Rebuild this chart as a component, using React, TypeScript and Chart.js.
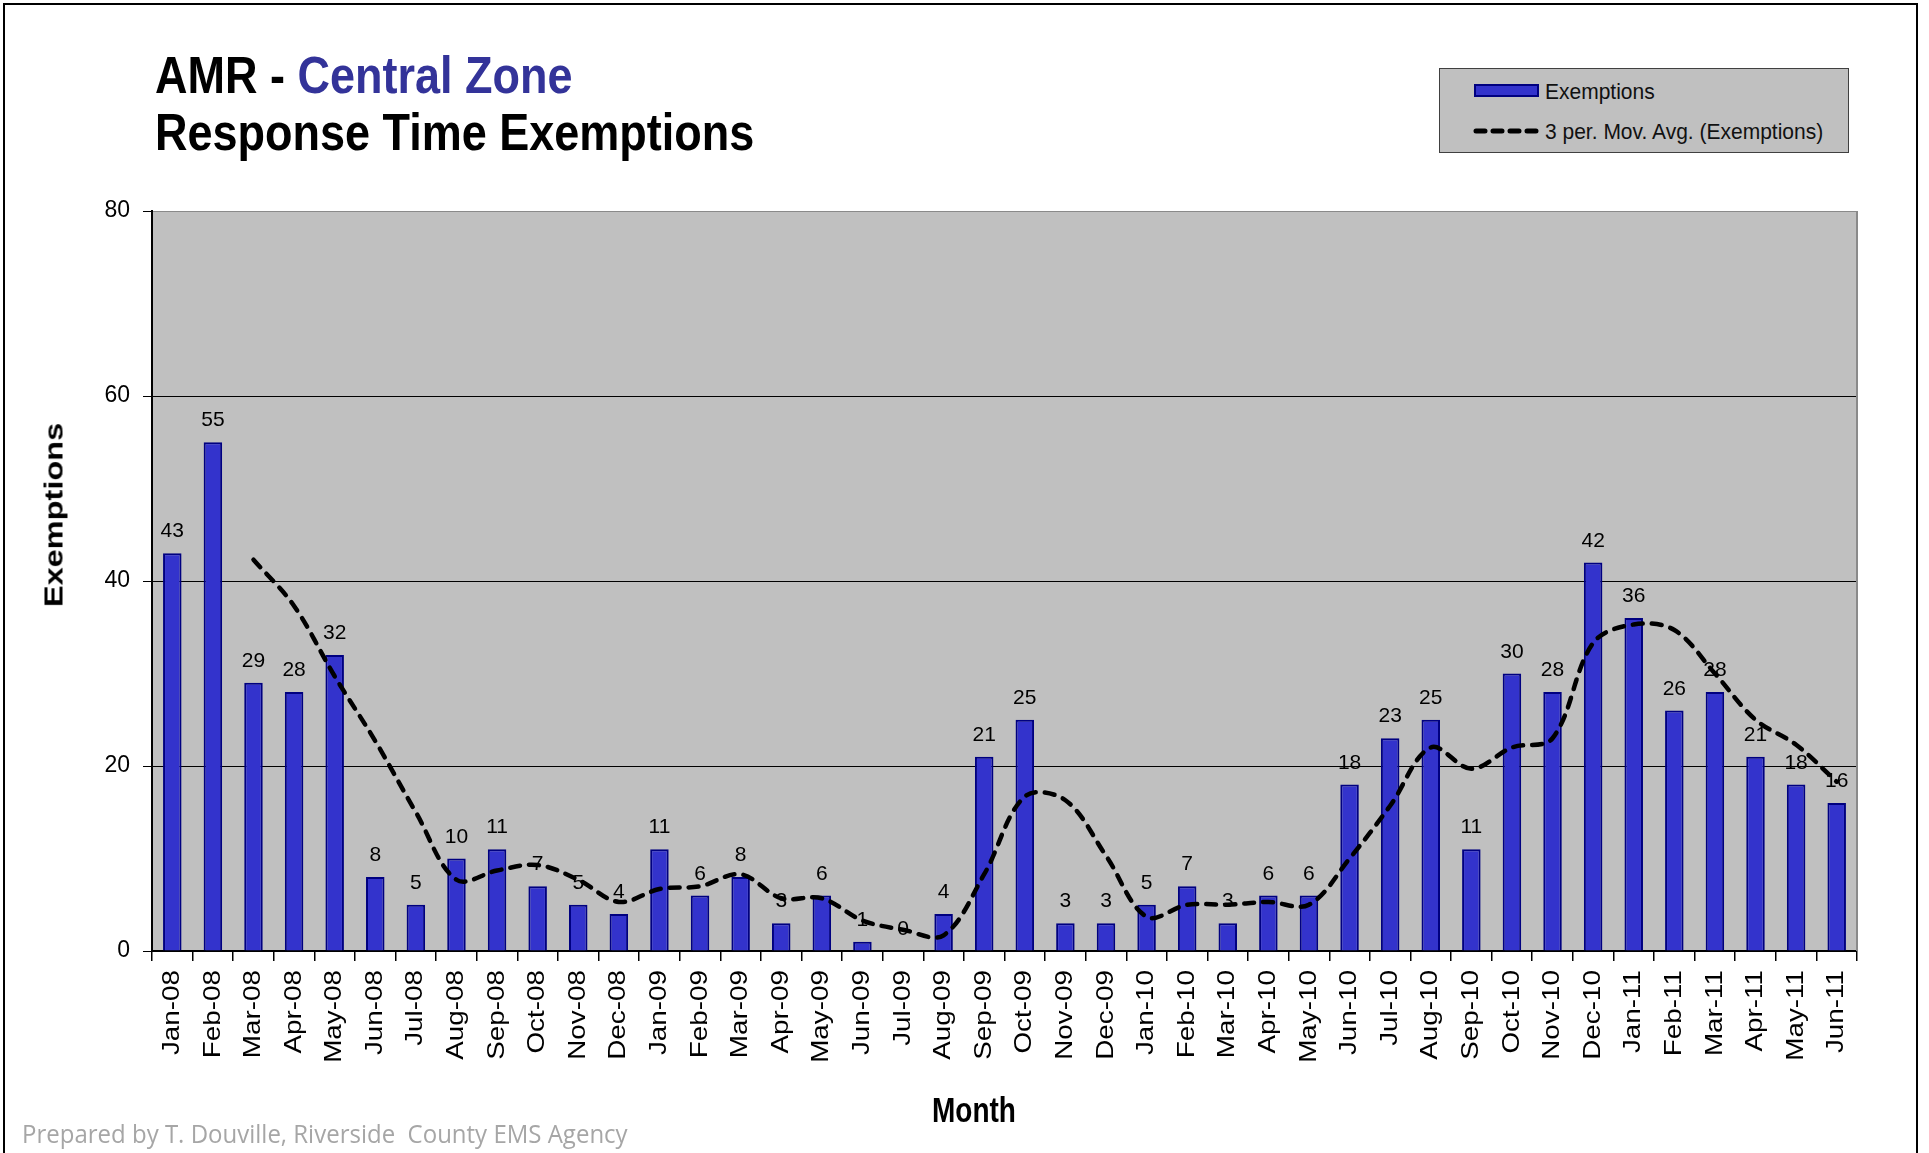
import React, { useEffect, useRef } from "react";
import { Chart, registerables } from "chart.js";

Chart.register(...registerables);

const months = [
  "Jan-08", "Feb-08", "Mar-08", "Apr-08", "May-08", "Jun-08", "Jul-08", "Aug-08", "Sep-08", "Oct-08", "Nov-08", "Dec-08",
  "Jan-09", "Feb-09", "Mar-09", "Apr-09", "May-09", "Jun-09", "Jul-09", "Aug-09", "Sep-09", "Oct-09", "Nov-09", "Dec-09",
  "Jan-10", "Feb-10", "Mar-10", "Apr-10", "May-10", "Jun-10", "Jul-10", "Aug-10", "Sep-10", "Oct-10", "Nov-10", "Dec-10",
  "Jan-11", "Feb-11", "Mar-11", "Apr-11", "May-11", "Jun-11",
];

const exemptions = [
  43, 55, 29, 28, 32, 8, 5, 10, 11, 7, 5, 4,
  11, 6, 8, 3, 6, 1, 0, 4, 21, 25, 3, 3,
  5, 7, 3, 6, 6, 18, 23, 25, 11, 30, 28, 42,
  36, 26, 28, 21, 18, 16,
];

const movingAvg: (number | null)[] = [
  null, null, 42.3, 37.3, 29.7, 22.7, 15, 7.7, 8.7, 9.3, 7.7, 5.3,
  6.7, 7, 8.3, 5.7, 5.7, 3.3, 2.3, 1.7, 8.3, 16.7, 16.3, 10.3,
  3.7, 5, 5, 5.3, 5, 10, 15.7, 22, 19.7, 22, 23, 33.3,
  35.3, 34.7, 30, 25, 22.3, 18.3,
];

const yTickValues = [0, 20, 40, 60, 80];

const BAR_FILL = "#3333CC";
const BAR_EDGE = "#000080";
const FONT = '"Liberation Sans", Arial, sans-serif';

export default function App() {
  const ref = useRef<HTMLCanvasElement>(null);

  useEffect(() => {
    const canvas = ref.current;
    if (!canvas) return;

    const plotBg = {
      id: "plotBg",
      beforeDraw(chart: any) {
        const { ctx, chartArea: a } = chart;
        ctx.save();
        ctx.fillStyle = "#C0C0C0";
        ctx.fillRect(a.left, a.top, a.right - a.left, a.bottom - a.top);
        ctx.restore();
      },
    };

    const frame = {
      id: "frame",
      beforeDatasetsDraw(chart: any) {
        const { ctx, chartArea: a } = chart;
        ctx.save();
        ctx.strokeStyle = "#8a8a8a";
        ctx.lineWidth = 2;
        ctx.beginPath();
        ctx.moveTo(a.right, a.top);
        ctx.lineTo(a.right, a.bottom);
        ctx.stroke();
        ctx.restore();
      },
    };

    const valueLabels = {
      id: "valueLabels",
      afterDatasetsDraw(chart: any) {
        const { ctx } = chart;
        const meta = chart.getDatasetMeta(0);
        ctx.save();
        ctx.font = `21px ${FONT}`;
        ctx.fillStyle = "#000";
        ctx.textAlign = "center";
        ctx.textBaseline = "alphabetic";
        meta.data.forEach((bar: any, i: number) => {
          ctx.fillText(String(exemptions[i]), bar.x, bar.y - 16);
        });
        ctx.restore();
      },
    };

    const xLabels = {
      id: "xLabels",
      afterDraw(chart: any) {
        const { ctx } = chart;
        const sx = chart.scales.x;
        const top = chart.chartArea.bottom + 19;
        ctx.save();
        ctx.font = `24px ${FONT}`;
        ctx.fillStyle = "#000";
        months.forEach((m, i) => {
          const x = sx.getPixelForValue(i);
          ctx.save();
          ctx.translate(x, top);
          ctx.rotate(-Math.PI / 2);
          ctx.scale(1.16, 1);
          ctx.textAlign = "right";
          ctx.textBaseline = "middle";
          ctx.fillText(m, 0, 0);
          ctx.restore();
        });
        ctx.restore();
      },
    };

    const chart = new Chart(canvas, {
      type: "bar",
      data: {
        labels: months,
        datasets: [
          {
            type: "bar",
            label: "Exemptions",
            data: exemptions,
            backgroundColor: BAR_FILL,
            borderColor: BAR_EDGE,
            borderWidth: 2,
            barPercentage: 0.456,
            categoryPercentage: 1,
            order: 2,
          },
          {
            type: "line",
            label: "3 per. Mov. Avg. (Exemptions)",
            data: movingAvg,
            borderColor: "#000",
            borderWidth: 4.5,
            borderDash: [10, 9],
            borderCapStyle: "round",
            pointRadius: 0,
            tension: 0.35,
            fill: false,
            order: 1,
          },
        ],
      } as any,
      options: {
        responsive: false,
        animation: false,
        devicePixelRatio: 1,
        layout: { padding: { left: 0, right: 72, top: 211, bottom: 0 } },
        plugins: {
          legend: { display: false },
          tooltip: { enabled: false },
          title: { display: false },
        },
        scales: {
          x: {
            offset: true,
            grid: {
              offset: true,
              drawOnChartArea: false,
              drawTicks: true,
              tickLength: 10,
              tickColor: "#000",
              lineWidth: 1.5,
            },
            border: { display: true, color: "#000", width: 2 },
            ticks: { display: false },
            afterFit(s: any) {
              s.height = 202;
            },
          },
          y: {
            min: 0,
            max: 80,
            afterBuildTicks(s: any) {
              s.ticks = yTickValues.map((v) => ({ value: v }));
            },
            ticks: {
              color: "#000",
              font: { family: FONT, size: 23 },
              padding: 13,
            },
            grid: {
              color: (c: any) => (c.tick && c.tick.value === 80 ? "#8a8a8a" : "#000"),
              tickColor: "#000",
              tickLength: 9,
              lineWidth: 1,
            },
            border: { color: "#000", width: 2 },
            afterFit(s: any) {
              s.width = 152;
            },
          },
        },
      } as any,
      plugins: [plotBg, frame, valueLabels, xLabels],
    });

    return () => chart.destroy();
  }, []);

  const abs = (extra: React.CSSProperties): React.CSSProperties => ({ position: "absolute", whiteSpace: "pre", ...extra });

  return (
    <div style={{ position: "fixed", left: 0, top: 0, width: 1929, height: 1153, overflow: "hidden", background: "#fff" }}>
      <div style={abs({ left: 3, top: 3, width: 1915, height: 1250, border: "2px solid #000", boxSizing: "border-box" })} />
      <canvas ref={ref} width={1929} height={1153} style={abs({ left: 0, top: 0, width: 1929, height: 1153 })} />

      <div style={abs({ left: 155, top: 49, font: `bold 45px ${FONT}`, lineHeight: "45px", transform: "scaleY(1.15)", transformOrigin: "0 0", color: "#000" })}>
        <span>AMR - </span>
        <span style={{ color: "#333399" }}>Central Zone</span>
      </div>
      <div style={abs({ left: 155, top: 106, font: `bold 45px ${FONT}`, lineHeight: "45px", transform: "scaleY(1.15)", transformOrigin: "0 0", color: "#000" })}>
        Response Time Exemptions
      </div>

      <div style={abs({ left: 54, top: 515, font: `bold 25px ${FONT}`, lineHeight: "25px", transform: "translate(-50%, -50%) rotate(-90deg) scaleX(1.3)", color: "#000" })}>
        Exemptions
      </div>

      <div style={abs({ left: 974, top: 1093, font: `bold 28px ${FONT}`, lineHeight: "28px", transform: "translateX(-50%) scaleY(1.25)", transformOrigin: "50% 0", color: "#000" })}>
        Month
      </div>

      <div style={abs({ left: 22, top: 1120, font: `24px "Open Sans", sans-serif`, lineHeight: "24px", transform: "scaleY(1.08)", transformOrigin: "0 0", color: "#a6a6a6" })}>
        {"Prepared by T. Douville, Riverside  County EMS Agency"}
      </div>

      <div style={abs({ left: 1439, top: 68, width: 410, height: 85, background: "#C0C0C0", border: "1px solid #404040", boxSizing: "border-box" })} />
      <div style={abs({ left: 1474, top: 84, width: 65, height: 13, background: BAR_FILL, border: `2px solid ${BAR_EDGE}`, boxSizing: "border-box" })} />
      <div style={abs({ left: 1545, top: 80, font: `21px ${FONT}`, lineHeight: "21px", transform: "scaleY(1.08)", transformOrigin: "0 0", color: "#111" })}>Exemptions</div>
      <svg style={abs({ left: 1472, top: 125, width: 72, height: 12 })} width={72} height={12}>
        <line x1={4} y1={6} x2={68} y2={6} stroke="#000" strokeWidth={5} strokeDasharray="9 8" strokeLinecap="round" />
      </svg>
      <div style={abs({ left: 1545, top: 120, font: `21px ${FONT}`, lineHeight: "21px", transform: "scaleY(1.08)", transformOrigin: "0 0", color: "#111" })}>
        3 per. Mov. Avg. (Exemptions)
      </div>
    </div>
  );
}
